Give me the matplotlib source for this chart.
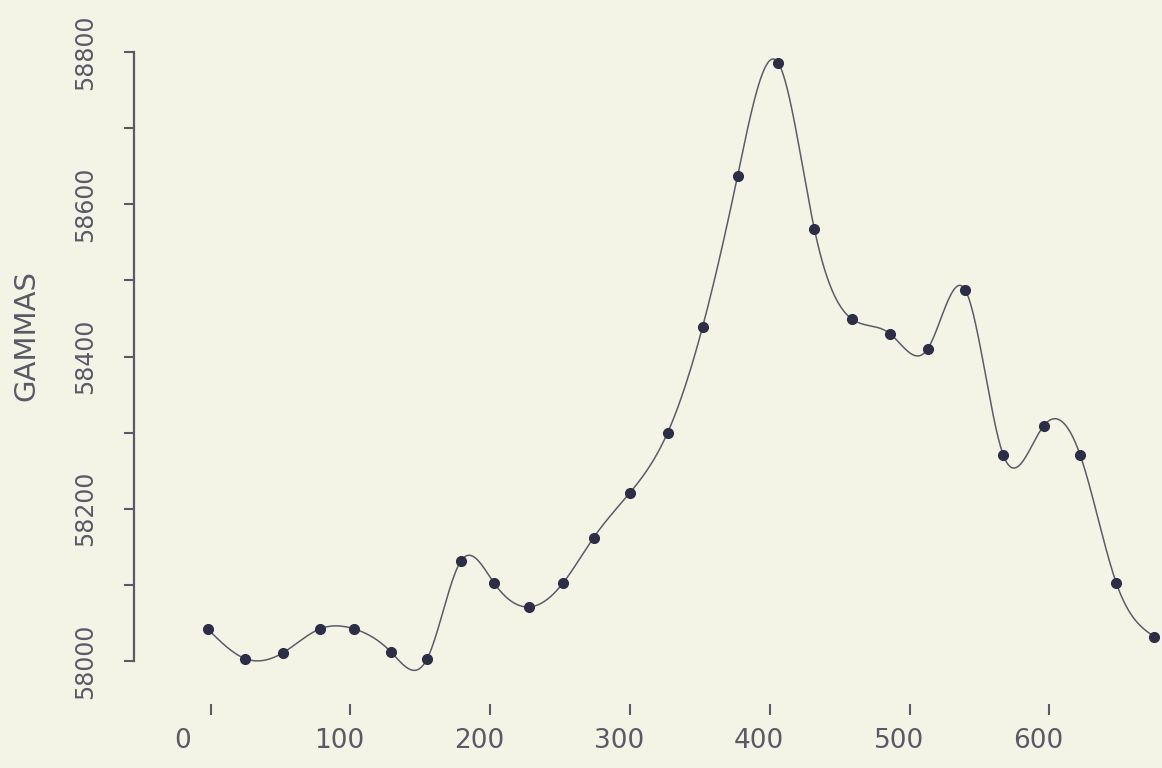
import numpy as np
import matplotlib
matplotlib.use("Agg")
import matplotlib.pyplot as plt
from matplotlib.transforms import ScaledTranslation

# ---- data ----
distance = [-2, 25, 52, 78, 103, 129, 155, 179, 203, 228, 252, 274, 300, 327,
            352, 377, 406, 432, 459, 486, 513, 540, 567, 596, 622, 648, 675]
gammas = [58042, 58003, 58011, 58042, 58042, 58012, 58003, 58131, 58102, 58071,
          58102, 58162, 58221, 58300, 58439, 58637, 58786, 58567, 58449, 58430,
          58410, 58487, 58271, 58309, 58271, 58102, 58032]
x_ticks = [0, 100, 200, 300, 400, 500, 600]
x_tick_labels = ["0", "100", "200", "300", "400", "500", "600"]
y_major = [58000, 58200, 58400, 58600, 58800]
y_minor = [58100, 58300, 58500, 58700]
y_label = "GAMMAS"

BG = "#f4f4e6"
INK = "#5a5a66"
LINE = "#5c5c68"
DOT = "#2d2d48"


def natural_spline(x, y, num=2000):
    x = np.asarray(x, float)
    y = np.asarray(y, float)
    n = len(x)
    h = np.diff(x)
    A = np.zeros((n, n))
    b = np.zeros(n)
    A[0, 0] = 1.0
    A[-1, -1] = 1.0
    for i in range(1, n - 1):
        A[i, i - 1] = h[i - 1]
        A[i, i] = 2 * (h[i - 1] + h[i])
        A[i, i + 1] = h[i]
        b[i] = 6 * ((y[i + 1] - y[i]) / h[i] - (y[i] - y[i - 1]) / h[i - 1])
    M = np.linalg.solve(A, b)
    xs = np.linspace(x[0], x[-1], num)
    idx = np.clip(np.searchsorted(x, xs) - 1, 0, n - 2)
    x0, x1 = x[idx], x[idx + 1]
    hh = x1 - x0
    t0 = x1 - xs
    t1 = xs - x0
    ys = (M[idx] * t0 ** 3 / (6 * hh) + M[idx + 1] * t1 ** 3 / (6 * hh)
          + (y[idx] / hh - M[idx] * hh / 6) * t0
          + (y[idx + 1] / hh - M[idx + 1] * hh / 6) * t1)
    return xs, ys


W, H = 1162, 768
fig = plt.figure(figsize=(W / 100, H / 100), dpi=100, facecolor=BG)

# pixel geometry of the reference
ax_left_px = 134
ax = fig.add_axes([ax_left_px / W, 0, (W - ax_left_px) / W, 1])
ax.set_facecolor(BG)

px_per_x = 1.398
x0_px = 210.5
px_per_y = 609 / 800.0
y0_px = 661  # pixel row of 58000

ax.set_xlim((ax_left_px - x0_px) / px_per_x, (W - x0_px) / px_per_x)
ax.set_ylim(58000 - (H - y0_px) / px_per_y, 58000 + y0_px / px_per_y)

xs, ys = natural_spline(distance, gammas)
ax.plot(xs, ys, color=LINE, lw=1.1, zorder=2, solid_capstyle="round")
ax.plot(distance, gammas, "o", ms=7, color=DOT, mec=DOT, zorder=3)

for s in ["top", "right", "bottom"]:
    ax.spines[s].set_visible(False)
ax.spines["left"].set_bounds(58000, 58800)
ax.spines["left"].set_color(INK)
ax.spines["left"].set_linewidth(1.6)

ax.set_yticks(y_major)
ax.set_yticks(y_minor, minor=True)
ax.set_yticklabels([str(v) for v in y_major], rotation=90, va="center",
                   fontsize=17, color=INK)
ax.tick_params(axis="y", which="both", direction="out", length=7.5, width=1.5,
               color=INK, pad=19)

# x ticks: floating short marks below the data, no axis line
ax.spines["bottom"].set_position(("data", 58000 - (715 - y0_px) / px_per_y))
ax.set_xticks(x_ticks)
ax.tick_params(axis="x", which="both", direction="in", length=8, width=1.5,
               color=INK, pad=9, labelsize=19, labelcolor=INK)
ax.set_xticklabels(x_tick_labels)
offset = ScaledTranslation(-36 / 100, 0, fig.dpi_scale_trans)
for lab in ax.get_xticklabels():
    lab.set_horizontalalignment("left")
    lab.set_transform(lab.get_transform() + offset)

ax.set_ylabel(y_label, fontsize=21, color=INK, va="center", rotation=90)
ax.yaxis.set_label_coords((26 - ax_left_px) / (W - ax_left_px), 1 - 335 / H)

fig.savefig("out.png", dpi=100, facecolor=BG)
